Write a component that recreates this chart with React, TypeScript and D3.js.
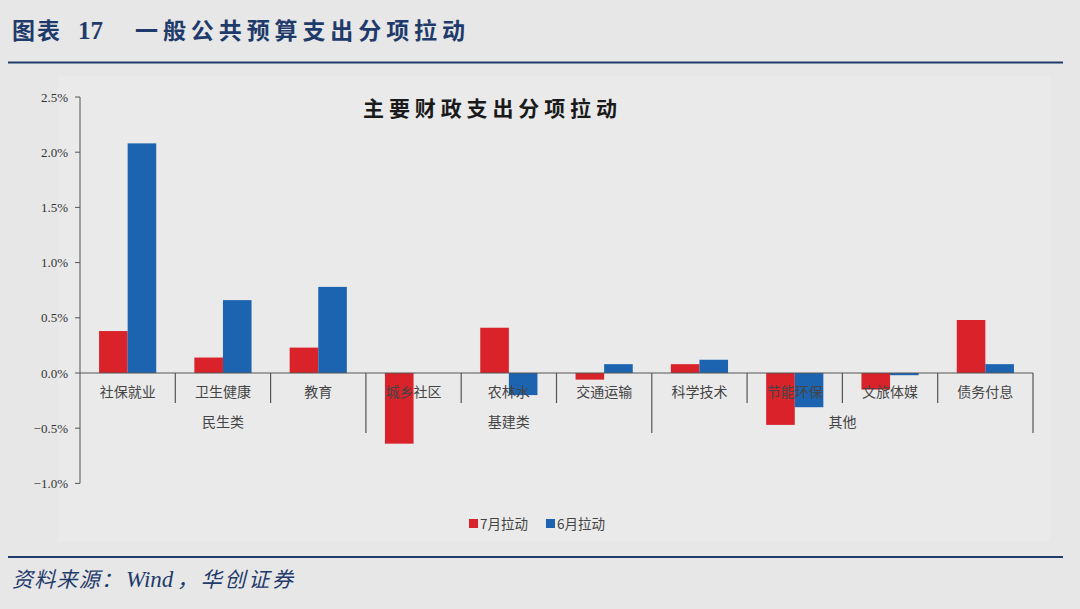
import React from 'react'
import * as d3 from 'd3'

const categories = ['社保就业', '卫生健康', '教育', '城乡社区', '农林水', '交通运输', '科学技术', '节能环保', '文旅体媒', '债务付息']
const julyPull = [0.38, 0.14, 0.23, -0.64, 0.41, -0.06, 0.08, -0.47, -0.15, 0.48]
const junePull = [2.08, 0.66, 0.78, 0.0, -0.2, 0.08, 0.12, -0.31, -0.02, 0.08]
const groups = [
  { name: '民生类', from: 0, to: 3 },
  { name: '基建类', from: 3, to: 6 },
  { name: '其他', from: 6, to: 10 },
]
const yTicks = [-1.0, -0.5, 0.0, 0.5, 1.0, 1.5, 2.0, 2.5]
const seriesNames = ['7月拉动', '6月拉动']

const RED = '#d9222a'
const BLUE = '#1c64b0'
const NAVY = '#1f3b6b'
const cjk = '"Noto Sans CJK SC", sans-serif'
const times = '"Liberation Serif", serif'

const App: React.FunctionComponent = () => {
  const width = 1080
  const height = 609
  const left = 80
  const right = 1033

  const x = d3.scaleBand<string>().domain(categories).range([left, right])
  const y = d3.scaleLinear().domain([-1.0, 2.5]).range([483.4, 97])

  const barW = x.bandwidth() * 0.3
  const barX = (i: number, s: number) => (x(categories[i]) as number) + x.bandwidth() / 2 - barW + s * barW

  const zero = y(0)
  const edge = (k: number) => left + k * x.bandwidth()
  const groupEdges = new Set(groups.map(g => g.from).concat([categories.length]))

  return (
    <svg width={width} height={height} style={{ position: 'absolute', left: 0, top: 0, background: '#e7e7e7' }}>
      <rect x={0} y={0} width={width} height={height} fill="#e7e7e7" />
      <rect x={58} y={76} width={992} height={466} fill="#eaeaea" />

      <text x={12} y={39} fill={NAVY} fontFamily={cjk} fontWeight={700} fontSize={23} textLength={48}>图表</text>
      <text x={78} y={39} fill={NAVY} fontFamily={times} fontWeight={700} fontSize={25}>17</text>
      <text x={135} y={39} fill={NAVY} fontFamily={cjk} fontWeight={700} fontSize={23} textLength={330}>一般公共预算支出分项拉动</text>
      <line x1={8} x2={1063} y1={62.5} y2={62.5} stroke={NAVY} strokeWidth={2.2} />

      <text x={490} y={116} textAnchor="middle" fill="#1a1a1a" fontFamily={cjk} fontWeight={700} fontSize={21} textLength={254}>主要财政支出分项拉动</text>

      {categories.map((c, i) => (
        <g key={c}>
          <rect x={barX(i, 0)} y={Math.min(y(julyPull[i]), zero)} width={barW} height={Math.abs(y(julyPull[i]) - zero)} fill={RED} />
          <rect x={barX(i, 1)} y={Math.min(y(junePull[i]), zero)} width={barW} height={Math.abs(y(junePull[i]) - zero)} fill={BLUE} />
        </g>
      ))}

      <line x1={left} x2={left} y1={y(2.5)} y2={y(-1.0)} stroke="#555" strokeWidth={1} />
      {yTicks.map(t => (
        <g key={t}>
          <line x1={left - 5} x2={left} y1={y(t)} y2={y(t)} stroke="#555" />
          <text x={68} y={y(t) + 4.5} textAnchor="end" fontFamily={times} fontSize={13} fill="#333">{d3.format('.1f')(t)}%</text>
        </g>
      ))}

      <line x1={left} x2={right} y1={zero} y2={zero} stroke="#555" strokeWidth={1.2} />
      {d3.range(1, categories.length + 1).map(k => (
        <line key={k} x1={edge(k)} x2={edge(k)} y1={zero} y2={groupEdges.has(k) ? 433 : 403} stroke="#555" strokeWidth={1.2} />
      ))}

      {categories.map(c => (
        <text key={c} x={(x(c) as number) + x.bandwidth() / 2} y={397} textAnchor="middle" fontFamily={cjk} fontSize={14} fill="#444">{c}</text>
      ))}
      {groups.map(g => (
        <text key={g.name} x={(edge(g.from) + edge(g.to)) / 2} y={427} textAnchor="middle" fontFamily={cjk} fontSize={14} fill="#444">{g.name}</text>
      ))}

      {seriesNames.map((n, i) => (
        <g key={n} transform={`translate(${469 + i * 77},519)`}>
          <rect x={0} y={0} width={9} height={9} fill={i === 0 ? RED : BLUE} />
          <text x={11} y={9.5} fontFamily={cjk} fontSize={13.5} fill="#444">{n}</text>
        </g>
      ))}

      <line x1={8} x2={1063} y1={557} y2={557} stroke={NAVY} strokeWidth={2.2} />
      <g fill={NAVY} fontStyle="italic">
        <text x={12} y={587} fontFamily={cjk} fontSize={21} textLength={110}>资料来源：</text>
        <text x={126} y={587} fontFamily={times} fontSize={23}>Wind</text>
        <text x={177} y={587} fontFamily={cjk} fontSize={21} textLength={116}>，华创证券</text>
      </g>
    </svg>
  )
}

export default App
